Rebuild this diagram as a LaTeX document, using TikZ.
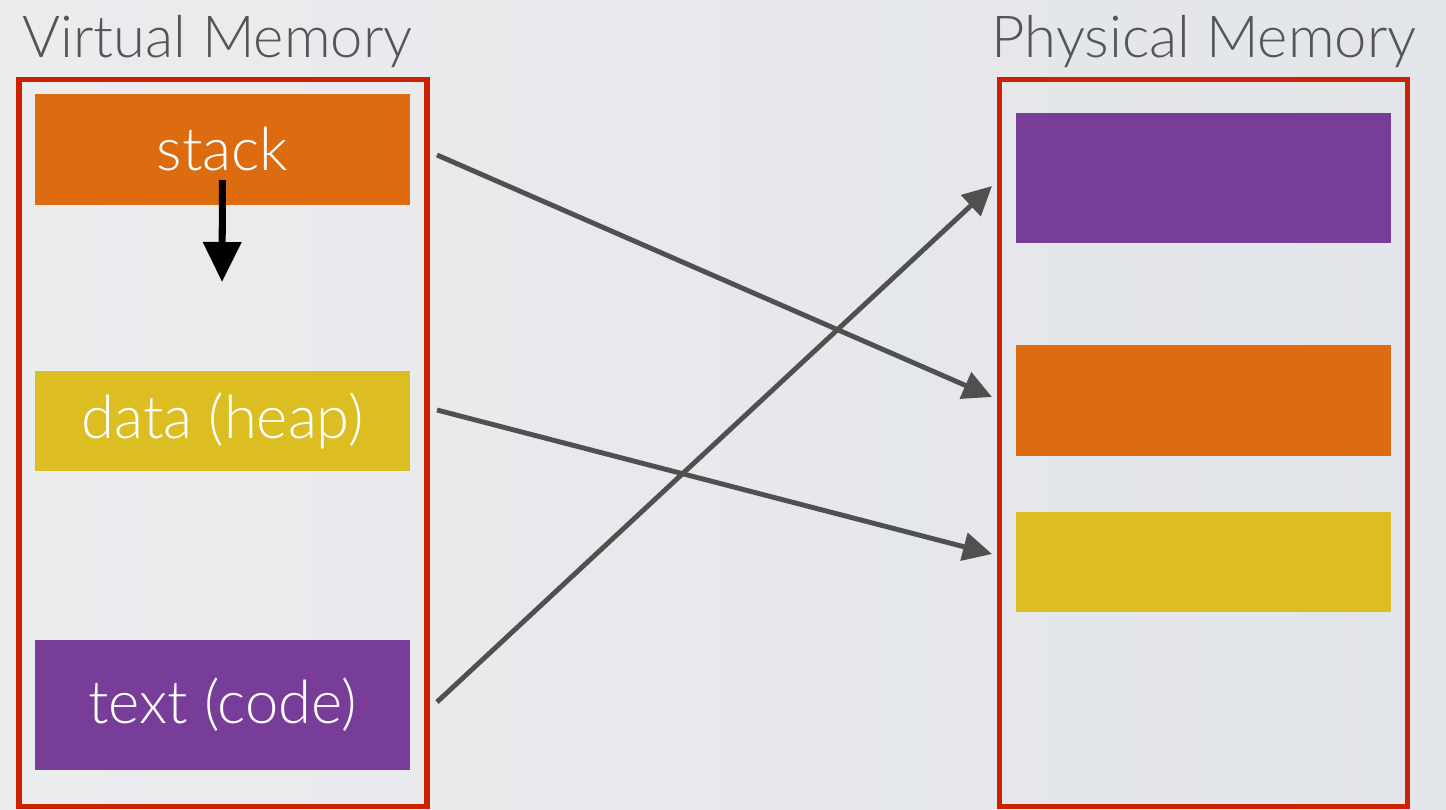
\documentclass[tikz,border=0pt]{standalone}
\usepackage{fontspec}
\setmainfont{Lato}[UprightFont=* Light]
\usepackage{xcolor}
\usetikzlibrary{arrows.meta,positioning,calc}
\definecolor{bgA}{HTML}{EBECEE}
\definecolor{bgB}{HTML}{E2E5E9}
\definecolor{frameRed}{HTML}{CC2200}
\definecolor{segOrange}{HTML}{DD6B10}
\definecolor{segYellow}{HTML}{DCBE22}
\definecolor{segPurple}{HTML}{773D98}
\definecolor{titleGray}{HTML}{555555}
\definecolor{linkGray}{HTML}{505050}

\begin{document}
\begin{tikzpicture}[x=0.02cm,y=-0.02cm,
    memframe/.style={draw=frameRed, line width=2.9pt, inner sep=0pt,
      minimum width=8.16cm, minimum height=14.56cm},
    seg/.style={inner sep=0pt, minimum width=7.5cm, text=white,
      font=\fontsize{34}{38}\selectfont},
    heading/.style={text=titleGray, inner sep=0pt,
      font=\fontsize{33}{38}\selectfont},
    link/.style={draw=linkGray, line width=2.8pt,
      -{Triangle[length=0.58cm,width=0.56cm]}}]
  % background
  \shade[left color=bgA, right color=bgB] (0,0) rectangle (1446,809);
  \useasboundingbox (0,0) rectangle (1446,809);

  % headings
  \node[heading, anchor=base west] (vtitle) at (22,57) {Virtual Memory};
  \node[heading, anchor=base east] (ptitle) at (1417,57) {Physical Memory};

  % the two address spaces
  \node[memframe] (vmem) at (223,443) {};
  \node[memframe] (pmem) at (1203.5,443) {};

  % virtual segments
  \node[seg, fill=segOrange, minimum height=2.22cm] (stack) at (222.5,149.5) {\raisebox{-1.5mm}{stack}};
  \node[seg, fill=segYellow, minimum height=2.0cm] (heap) at (222.5,421) {\raisebox{-1mm}{data (heap)}};
  \node[seg, fill=segPurple, minimum height=2.6cm] (code) at (222.5,705) {\raisebox{-1mm}{text (code)}};

  % physical frames
  \node[seg, fill=segPurple, minimum height=2.6cm] (pcode) at (1203.5,178) {};
  \node[seg, fill=segOrange, minimum height=2.22cm] (pstack) at (1203.5,400.5) {};
  \node[seg, fill=segYellow, minimum height=2.0cm] (pheap) at (1203.5,562) {};

  % stack grows down
  \coordinate (grow) at (222,282);
  \draw[line width=4pt, -{Triangle[length=0.8cm,width=0.74cm]}]
    (stack.center |- 0,180) -- (grow);

  % mappings
  \coordinate (s0) at (437,155);
  \coordinate (s1) at (992,397);
  \coordinate (h0) at (437,410);
  \coordinate (h1) at (992,554);
  \coordinate (c0) at (437,702);
  \coordinate (c1) at (992,186);
  \foreach \a/\b in {s0/s1,h0/h1,c0/c1}
    \draw[link] (\a) -- (\b);
\end{tikzpicture}
\end{document}
